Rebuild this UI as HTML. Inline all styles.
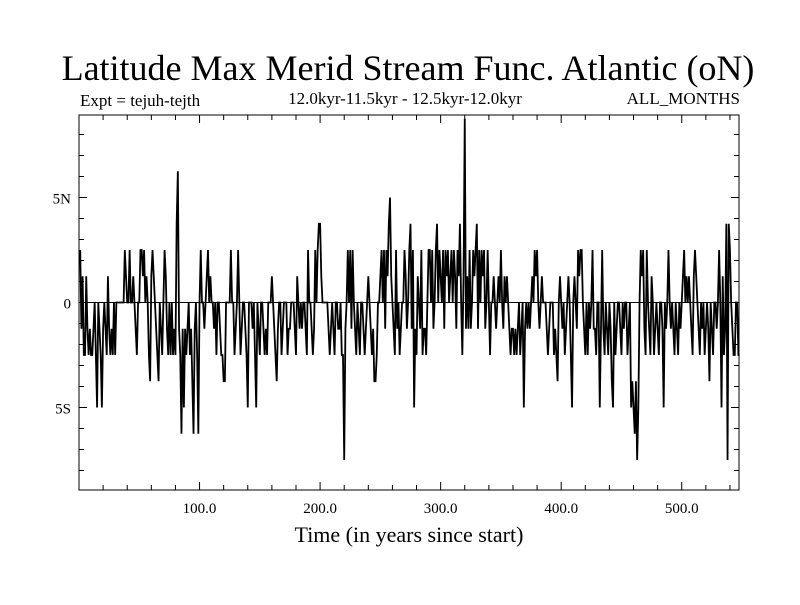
<!DOCTYPE html>
<html><head><meta charset="utf-8"><style>
body{margin:0;background:#fff}
svg text{font-family:"Liberation Serif",serif;fill:#000}
</style></head><body>
<svg width="800" height="600" viewBox="0 0 800 600">
<rect width="800" height="600" fill="#fff"/>
<text x="408" y="80" font-size="36" text-anchor="middle">Latitude Max Merid Stream Func. Atlantic (oN)</text>
<text x="80" y="106" font-size="17">Expt = tejuh-tejth</text>
<text x="405" y="104" font-size="17" text-anchor="middle">12.0kyr-11.5kyr - 12.5kyr-12.0kyr</text>
<text x="740" y="104" font-size="17" text-anchor="end">ALL_MONTHS</text>
<text x="409" y="542" font-size="22" text-anchor="middle">Time (in years since start)</text>
<g id="axes"></g>
<g id="plot"></g>
</svg>
<script>
const years0 = 1;
const seriesK = [
2,-1,1,-2,-2,1,-1,-2,-1,-2,-2,-1,0,-2,-4,0,-1,-2,-4,-1,0,-1,-2,1,-1,-2,-1,-2,0,-2,0,0,0,0,0,0,0,2,1,0,0,2,0,0,1,0,-1,-2,0,0,
2,2,1,2,0,1,0,-2,-3,1,2,1,0,-1,-2,-3,0,-1,-2,0,2,1,-1,-2,0,-2,0,-2,-1,-2,3,5,-1,-2,-5,-1,-4,-1,-2,-1,0,-2,-1,-3,-5,-1,0,-2,-5,0,
2,0,0,-1,0,1,2,0,1,0,0,-1,0,-2,0,0,-1,-2,-2,-3,-3,0,0,0,0,2,0,0,-2,-1,0,2,0,-2,-1,0,0,-1,-2,-4,0,0,0,-1,0,-2,-4,0,-1,-2,
0,0,-1,-2,-1,-2,0,0,0,1,0,-1,-2,-3,-1,0,0,-2,-1,0,0,0,-2,-1,-1,0,0,0,-1,-2,1,0,-1,0,-1,0,0,-1,-2,2,0,0,-1,-2,-1,2,0,2,3,3,
1,0,0,0,0,0,-1,-2,-1,0,-1,-2,0,0,-1,-1,0,-2,-2,-6,-1,0,2,0,2,-1,2,0,-1,-2,0,-1,-2,0,0,-1,-2,-1,0,1,0,-1,-2,-1,-3,-3,-2,0,0,1,
2,0,2,-1,2,1,3,4,1,0,-1,-2,2,-1,0,-2,-1,0,0,2,1,-1,0,2,3,-1,2,-4,-1,-2,1,0,-1,2,-2,-1,-1,-2,0,2,2,0,2,-1,0,2,3,0,2,1,
0,2,-1,2,1,2,0,1,2,0,2,1,-1,2,1,3,0,-2,1,7,-1,1,-1,2,-1,0,2,1,2,3,-1,2,0,2,1,2,-1,0,2,0,-2,0,0,1,0,-1,0,1,0,2,
0,-1,1,0,1,0,-1,-2,-1,-1,-2,-1,-2,-1,0,-2,-1,0,-4,-1,0,-1,0,-1,0,1,0,2,1,2,0,-1,0,1,0,0,0,-1,-2,-1,0,0,0,-2,-1,-2,-3,0,1,0,
-1,0,-2,-1,0,1,0,-2,-4,0,1,0,-1,2,1,2,2,0,-1,-2,0,-2,0,-1,0,2,-1,-1,-2,0,0,-4,-1,2,-1,-2,0,-1,-2,0,-1,-3,-4,0,-2,-1,0,0,-1,-2,
0,-1,0,0,-2,-1,0,-4,-3,-4,-5,-3,-6,-4,0,2,1,2,-1,-2,2,0,-1,-2,1,0,-2,-1,0,-1,-2,0,0,-1,-4,0,-1,0,2,0,-1,0,-1,-2,0,-1,-2,0,-1,0,
1,2,0,1,0,1,0,-1,-2,1,2,1,0,-1,-2,0,-1,0,-2,-1,0,-1,-3,0,-1,-2,0,0,-1,0,2,0,-4,1,-2,-1,3,-6,3,2,0,-1,-2,-2,0,0,-2,-2
];
const stepUnit = 1.25;
const xTicks = [100,200,300,400,500];
const xTickLabels = ["100.0","200.0","300.0","400.0","500.0"];
const yTicks = [-5,0,5];
const yTickLabels = ["5S","0","5N"];

const L=79,R=739,T=115,B=490, xMin=0,xMax=547.5, yMin=-8.93,yMax=8.93;
const X=t=>L+(t-xMin)/(xMax-xMin)*(R-L);
const Y=v=>B-(v-yMin)/(yMax-yMin)*(B-T);
const NS="http://www.w3.org/2000/svg";
function mk(tag,attrs,parent){const e=document.createElementNS(NS,tag);for(const k in attrs)e.setAttribute(k,attrs[k]);parent.appendChild(e);return e;}
const ax=document.getElementById('axes'), pl=document.getElementById('plot');
const frame=mk('rect',{x:L,y:T,width:R-L,height:B-T,fill:'none',stroke:'#000','stroke-width':1},ax);


const zl=mk('line',{x1:L,x2:R,y1:Y(0),y2:Y(0),stroke:'#000','stroke-width':1},ax);


for(let t=20;t<xMax;t+=20){const big=t%100===0,len=big?8:5;
 mk('line',{x1:X(t),x2:X(t),y1:B,y2:B-len,stroke:'#000'},ax);
 mk('line',{x1:X(t),x2:X(t),y1:T,y2:T+len,stroke:'#000'},ax);}
for(let v=-8;v<=8;v++){const big=v%5===0,len=big?8:5;
 mk('line',{x1:L,x2:L+len,y1:Y(v),y2:Y(v),stroke:'#000'},ax);
 mk('line',{x1:R,x2:R-len,y1:Y(v),y2:Y(v),stroke:'#000'},ax);}
xTicks.forEach((t,i)=>{const e=mk('text',{x:X(t),y:B+23,'font-size':15,'text-anchor':'middle'},ax);e.textContent=xTickLabels[i];
 
 });
yTicks.forEach((v,i)=>{const e=mk('text',{x:L-8,y:Y(v)+6,'font-size':15,'text-anchor':'end'},ax);e.textContent=yTickLabels[i];
 
 });
const pts=seriesK.map((k,i)=>X(years0+i).toFixed(2)+','+Y(k*stepUnit).toFixed(2)).join(' ');
const line=mk('polyline',{points:pts,fill:'none',stroke:'#000','stroke-width':1.8},pl);


</script>
</body></html>
